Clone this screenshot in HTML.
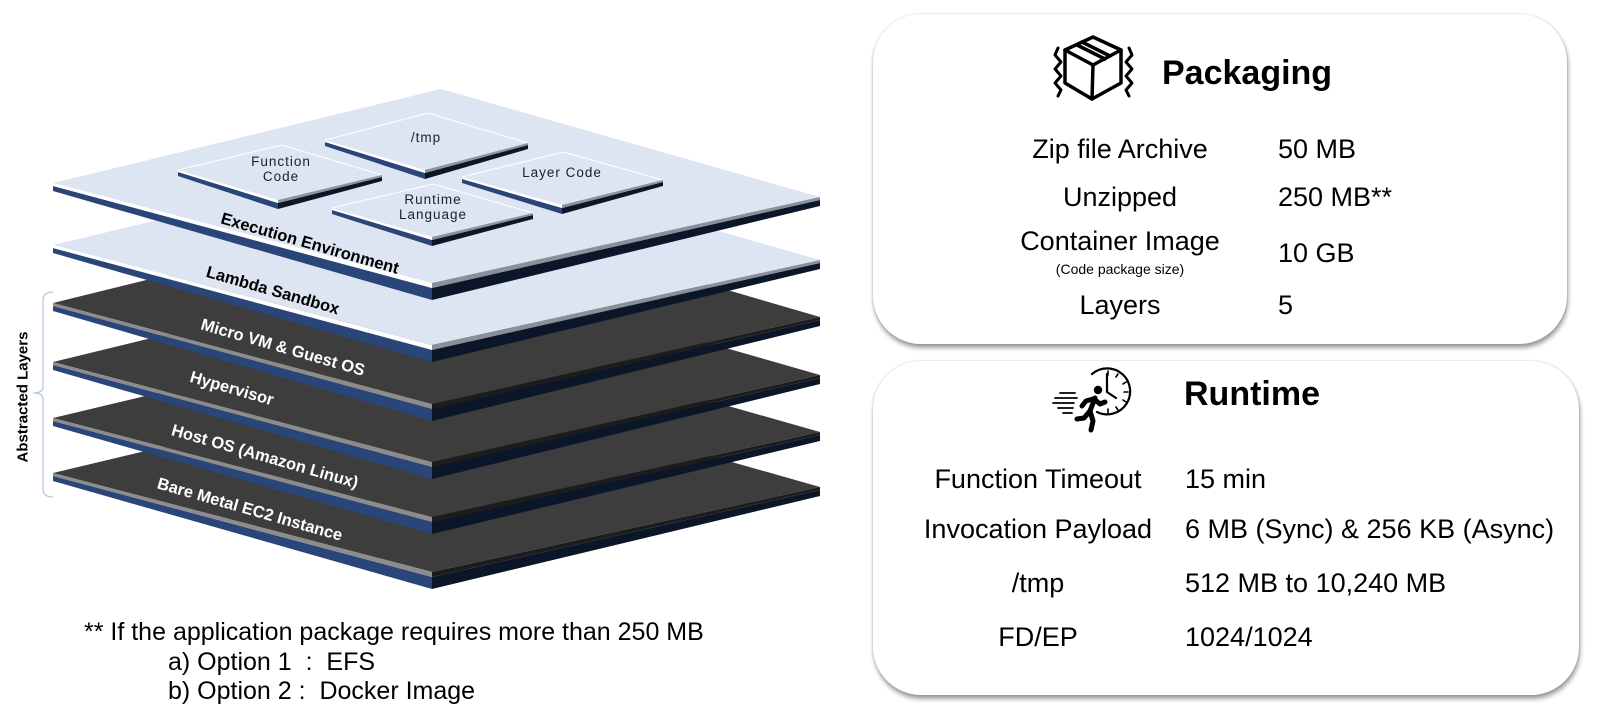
<!DOCTYPE html>
<html>
<head>
<meta charset="utf-8">
<style>
  html,body{margin:0;padding:0;background:#fff;}
  body{width:1600px;height:722px;position:relative;overflow:hidden;font-family:"Liberation Sans",Arial,sans-serif;}
  .card{position:absolute;background:#fff;border-radius:48px;
        box-shadow:0 0 2px rgba(0,0,0,0.2),1px 4px 5px rgba(0,0,0,0.38);}
  svg{position:absolute;left:0;top:0;}
</style>
</head>
<body>
<div class="card" style="left:873px;top:14px;width:694px;height:330px;"></div>
<div class="card" style="left:873px;top:361px;width:706px;height:334px;"></div>

<svg width="1600" height="722" viewBox="0 0 1600 722" xmlns="http://www.w3.org/2000/svg">
  <!-- ============ LAYER STACK ============ -->
  <g stroke="none">
    <!-- Bare Metal -->
    <polygon points="53,476 432,577 432,589 53,481" fill="#2a4578"/>
    <polygon points="432,577 820,490 820,496 432,589" fill="#0b1629"/>
    <polygon points="53,473 443,380 820,487 432,572" fill="#3d3d3d"/>
    <polygon points="53,473 432,572 432,577 53,476" fill="#8c8c8c"/>
    <polygon points="432,572 820,487 820,490 432,577" fill="#1c1c1c"/>

    <!-- Host OS -->
    <polygon points="53,421 432,522 432,534 53,426" fill="#2a4578"/>
    <polygon points="432,522 820,435 820,441 432,534" fill="#0b1629"/>
    <polygon points="53,418 443,325 820,432 432,517" fill="#3d3d3d"/>
    <polygon points="53,418 432,517 432,522 53,421" fill="#8c8c8c"/>
    <polygon points="432,517 820,432 820,435 432,522" fill="#1c1c1c"/>

    <!-- Hypervisor -->
    <polygon points="53,365 432,467 432,479 53,370" fill="#2a4578"/>
    <polygon points="432,467 820,378 820,384 432,479" fill="#0b1629"/>
    <polygon points="53,362 443,267 820,375 432,462" fill="#3d3d3d"/>
    <polygon points="53,362 432,462 432,467 53,365" fill="#8c8c8c"/>
    <polygon points="432,462 820,375 820,378 432,467" fill="#1c1c1c"/>

    <!-- Micro VM -->
    <polygon points="53,306 432,409 432,421 53,311" fill="#2a4578"/>
    <polygon points="432,409 820,320 820,326 432,421" fill="#0b1629"/>
    <polygon points="53,303 443,207 820,317 432,404" fill="#3d3d3d"/>
    <polygon points="53,303 432,404 432,409 53,306" fill="#8c8c8c"/>
    <polygon points="432,404 820,317 820,320 432,409" fill="#1c1c1c"/>

    <!-- Lambda Sandbox -->
    <polygon points="53,248 432,350 432,362 53,253" fill="#2a4578"/>
    <polygon points="432,350 820,263 820,269 432,362" fill="#0b1629"/>
    <polygon points="53,245 443,152 820,260 432,345" fill="#dde5f3"/>
    <polygon points="53,245 432,345 432,350 53,248" fill="#ffffff"/>
    <polygon points="432,345 820,260 820,263 432,350" fill="#8a9099"/>

    <!-- Execution Environment -->
    <polygon points="53,186 432,288 432,300 53,191" fill="#2a4578"/>
    <polygon points="432,288 820,200 820,206 432,300" fill="#0b1629"/>
    <polygon points="53,183 441,89 820,197 432,283" fill="#dde5f3"/>
    <polygon points="53,183 432,283 432,288 53,186" fill="#ffffff"/>
    <polygon points="432,283 820,197 820,200 432,288" fill="#8a9099"/>

    <!-- Tiles -->
    <!-- /tmp -->
    <polygon points="325,142 425,173 425,179 325,146" fill="#2a4578"/>
    <polygon points="425,173 528,145 528,149 425,179" fill="#0b1629"/>
    <polygon points="325,140 428,113 528,143 425,170" fill="#dde5f3"/>
    <polyline points="325,140 428,113 528,143" fill="none" stroke="#ffffff" stroke-width="1"/>
    <polygon points="325,140 425,170 425,173 325,142" fill="#ffffff"/>
    <polygon points="425,170 528,143 528,145 425,173" fill="#8d939c"/>

    <!-- Function Code -->
    <polygon points="178,172 278,203 278,209 178,176" fill="#2a4578"/>
    <polygon points="278,203 382,177 382,181 278,209" fill="#0b1629"/>
    <polygon points="178,170 282,145 382,175 278,200" fill="#dde5f3"/>
    <polyline points="178,170 282,145 382,175" fill="none" stroke="#ffffff" stroke-width="1"/>
    <polygon points="178,170 278,200 278,203 178,172" fill="#ffffff"/>
    <polygon points="278,200 382,175 382,177 278,203" fill="#8d939c"/>

    <!-- Layer Code -->
    <polygon points="462,179 562,208 562,214 462,183" fill="#2a4578"/>
    <polygon points="562,208 663,182 663,186 562,214" fill="#0b1629"/>
    <polygon points="462,177 563,152 663,180 562,205" fill="#dde5f3"/>
    <polyline points="462,177 563,152 663,180" fill="none" stroke="#ffffff" stroke-width="1"/>
    <polygon points="462,177 562,205 562,208 462,179" fill="#ffffff"/>
    <polygon points="562,205 663,180 663,182 562,208" fill="#8d939c"/>

    <!-- Runtime Language -->
    <polygon points="332,210 432,240 432,246 332,214" fill="#2a4578"/>
    <polygon points="432,240 533,215 533,219 432,246" fill="#0b1629"/>
    <polygon points="332,208 433,184 533,213 432,237" fill="#dde5f3"/>
    <polyline points="332,208 433,184 533,213" fill="none" stroke="#ffffff" stroke-width="1"/>
    <polygon points="332,208 432,237 432,240 332,210" fill="#ffffff"/>
    <polygon points="432,237 533,213 533,215 432,240" fill="#8d939c"/>
  </g>

  <!-- Tile labels -->
  <g font-family="Liberation Sans, Arial, sans-serif" font-size="13.5" fill="#222" text-anchor="middle" letter-spacing="1">
    <text x="281" y="166">Function</text>
    <text x="281" y="181">Code</text>
    <text x="426" y="142">/tmp</text>
    <text x="433" y="204">Runtime</text>
    <text x="433" y="219">Language</text>
    <text x="562" y="177">Layer Code</text>
  </g>

  <!-- Layer labels -->
  <g font-family="Liberation Sans, Arial, sans-serif" font-size="16.5" font-weight="bold" text-anchor="middle">
    <text x="310" y="243" dy="0.35em" fill="#000" transform="rotate(16 310 243)">Execution Environment</text>
    <text x="273" y="290" dy="0.35em" fill="#000" transform="rotate(16 273 290)">Lambda Sandbox</text>
    <text x="283" y="347" dy="0.35em" fill="#fff" transform="rotate(16 283 347)">Micro VM &amp; Guest OS</text>
    <text x="232" y="388" dy="0.35em" fill="#fff" transform="rotate(16 232 388)">Hypervisor</text>
    <text x="265" y="456" dy="0.35em" fill="#fff" transform="rotate(16 265 456)">Host OS (Amazon Linux)</text>
    <text x="250" y="509" dy="0.35em" fill="#fff" transform="rotate(16 250 509)">Bare Metal EC2 Instance</text>
  </g>

  <!-- Bracket -->
  <path d="M53,292 Q43,292 43,300 L43,387 Q43,393 33,393 Q43,393 43,399 L43,489 Q43,497 53,497"
        fill="none" stroke="#b9c8e0" stroke-width="1.3"/>
  <text x="22" y="397" dy="0.35em" font-family="Liberation Sans, Arial, sans-serif" font-size="15" font-weight="bold"
        text-anchor="middle" fill="#000" transform="rotate(-90 22 397)">Abstracted Layers</text>

  <!-- Footnote -->
  <g font-family="Liberation Sans, Arial, sans-serif" font-size="25" fill="#000">
    <text x="84" y="640">** If the application package requires more than 250 MB</text>
    <text x="168" y="670" xml:space="preserve">a) Option 1  :  EFS</text>
    <text x="168" y="699" xml:space="preserve">b) Option 2 :  Docker Image</text>
  </g>

  <!-- ============ PACKAGING CARD ============ -->
  <g fill="none" stroke="#000" stroke-width="3.5" stroke-linejoin="round" stroke-linecap="round">
    <polygon points="1093,37 1121,50 1121,83 1092,99 1065,83 1065,50"/>
    <polyline points="1065,50 1093,65 1121,50"/>
    <line x1="1093" y1="65" x2="1092" y2="99"/>
    <polyline points="1077,45 1105,59"/>
    <polyline points="1082,42 1110,56"/>
    <polyline points="1058,48 1055,55 1061,62 1055,69 1061,76 1055,83 1061,90 1058,96" stroke-width="3"/>
    <polyline points="1129,48 1132,55 1126,62 1132,69 1126,76 1132,83 1126,90 1129,96" stroke-width="3"/>
  </g>
  <text x="1162" y="84" font-family="Liberation Sans, Arial, sans-serif" font-size="34" font-weight="bold" fill="#000">Packaging</text>

  <g font-family="Liberation Sans, Arial, sans-serif" font-size="27" fill="#000">
    <text x="1120" y="158" text-anchor="middle">Zip file Archive</text>
    <text x="1120" y="206" text-anchor="middle">Unzipped</text>
    <text x="1120" y="250" text-anchor="middle">Container Image</text>
    <text x="1120" y="314" text-anchor="middle">Layers</text>
    <text x="1278" y="158">50 MB</text>
    <text x="1278" y="206">250 MB**</text>
    <text x="1278" y="262">10 GB</text>
    <text x="1278" y="314">5</text>
  </g>
  <text x="1120" y="274" text-anchor="middle" font-family="Liberation Sans, Arial, sans-serif" font-size="14" fill="#000">(Code package size)</text>

  <!-- ============ RUNTIME CARD ============ -->
  <g fill="none" stroke="#000" stroke-linecap="round" stroke-linejoin="round">
    <path d="M1092,374 A23,23 0 1 1 1097,412" stroke-width="2.2"/>
    <g stroke-width="1.6">
      <line x1="1108" y1="371" x2="1108" y2="375"/>
      <line x1="1128" y1="392" x2="1124" y2="392"/>
      <line x1="1108" y1="413" x2="1108" y2="409"/>
      <line x1="1118" y1="374" x2="1116" y2="377"/>
      <line x1="1126" y1="382" x2="1123" y2="384"/>
      <line x1="1126" y1="402" x2="1123" y2="400"/>
      <line x1="1118" y1="410" x2="1116" y2="407"/>
    </g>
    <polyline points="1107,374 1107,392 1116,398" stroke-width="2.2"/>
    <g stroke-width="5">
      <line x1="1095" y1="398" x2="1090" y2="411"/>
      <polyline points="1090,411 1084,418 1077,419"/>
      <polyline points="1090,411 1093,421 1091,430"/>
      <polyline points="1094,399 1100,404 1105,402"/>
      <polyline points="1093,399 1086,401 1082,406"/>
    </g>
    <g stroke-width="1.8">
      <line x1="1060" y1="393" x2="1075" y2="393"/>
      <line x1="1055" y1="398" x2="1077" y2="398"/>
      <line x1="1053" y1="403" x2="1074" y2="403"/>
      <line x1="1058" y1="408" x2="1073" y2="408"/>
      <line x1="1063" y1="413" x2="1072" y2="413"/>
    </g>
  </g>
  <circle cx="1098" cy="390" r="4.2" fill="#000"/>
  <text x="1184" y="405" font-family="Liberation Sans, Arial, sans-serif" font-size="34" font-weight="bold" fill="#000">Runtime</text>

  <g font-family="Liberation Sans, Arial, sans-serif" font-size="27" fill="#000">
    <text x="1038" y="488" text-anchor="middle">Function Timeout</text>
    <text x="1038" y="538" text-anchor="middle">Invocation Payload</text>
    <text x="1038" y="592" text-anchor="middle">/tmp</text>
    <text x="1038" y="646" text-anchor="middle">FD/EP</text>
    <text x="1185" y="488">15 min</text>
    <text x="1185" y="538">6 MB (Sync) &amp; 256 KB (Async)</text>
    <text x="1185" y="592">512 MB to 10,240 MB</text>
    <text x="1185" y="646">1024/1024</text>
  </g>
</svg>
</body>
</html>
